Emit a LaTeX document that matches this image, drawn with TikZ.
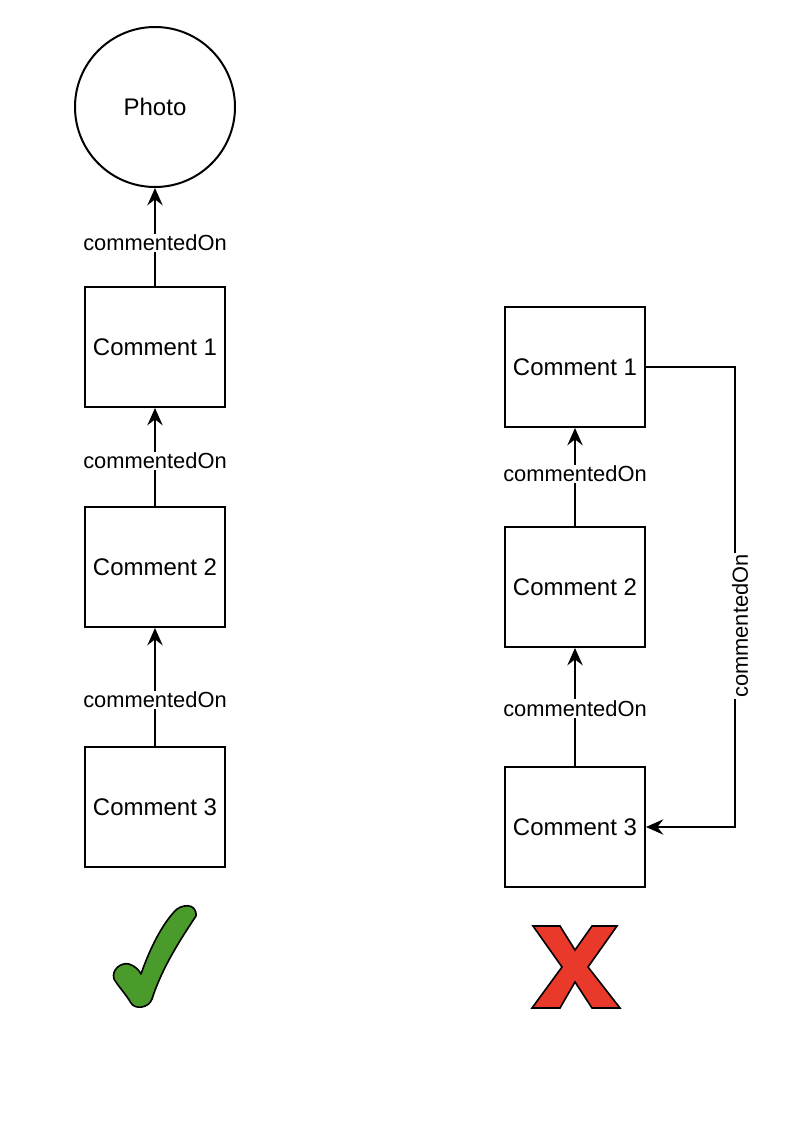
\documentclass[tikz,border=0pt]{standalone}
\usepackage{fontspec}
\setmainfont{Liberation Sans}
\usetikzlibrary{arrows.meta}
\definecolor{okgreen}{HTML}{4A9A2C}
\definecolor{nored}{HTML}{E8392A}
\begin{document}
\begin{tikzpicture}[x=0.75pt,y=-0.75pt,
  box/.style={draw,line width=1.5pt,minimum width=105pt,minimum height=90pt,inner sep=0pt,font=\fontsize{18}{21}\selectfont},
  photo/.style={draw,circle,line width=1.5pt,minimum size=120pt,inner sep=0pt,font=\fontsize{18}{21}\selectfont},
  arr/.style={line width=1.5pt,-{Stealth[length=13pt,width=11.5pt,inset=4.5pt]}},
  lbl/.style={fill=white,inner sep=1pt,font=\fontsize{16.4}{19}\selectfont}]
\useasboundingbox (0,0) rectangle (798,1124);
% left column
\node[photo] (ph) at (155,107) {Photo};
\node[box] (l1) at (155,347) {Comment 1};
\node[box] (l2) at (155,567) {Comment 2};
\node[box] (l3) at (155,807) {Comment 3};
\draw[arr] (l1.north) -- node[lbl,pos=0.44]{commentedOn} (ph.south);
\draw[arr] (l2.north) -- node[lbl,pos=0.46]{commentedOn} (l1.south);
\draw[arr] (l3.north) -- node[lbl,pos=0.39]{commentedOn} (l2.south);
% right column
\node[box] (r1) at (575,367) {Comment 1};
\node[box] (r2) at (575,587) {Comment 2};
\node[box] (r3) at (575,827) {Comment 3};
\draw[arr] (r2.north) -- node[lbl,pos=0.53]{commentedOn} (r1.south);
\draw[arr] (r3.north) -- node[lbl,pos=0.49]{commentedOn} (r2.south);
\coordinate (k1) at (735,367);
\coordinate (k2) at (735,827);
\draw[arr] (r1.east) -- (k1) -- (k2) -- (r3.east);
\node[lbl,rotate=90] (vl) at (740,626) {commentedOn};
% check mark
\draw[fill=okgreen,line width=1.2pt,line join=round]
  (141,974) .. controls (150,948) and (162,925) .. (174,912)
  .. controls (180,904) and (197,902) .. (196,916)
  .. controls (180,940) and (162,968) .. (152,999)
  .. controls (149,1008) and (135,1010) .. (131,1003)
  .. controls (125,993) and (118,986) .. (114,979)
  .. controls (111,969) and (122,962) .. (129,964)
  .. controls (135,966) and (139,970) .. cycle;
% cross
\draw[fill=nored,line width=1.2pt,line join=miter]
  (533,926) -- (560,926) -- (575,950) -- (592,926) -- (617,926)
  -- (588,967) -- (620,1008) -- (592,1008) -- (575,982) -- (560,1008)
  -- (532,1008) -- (562,967) -- cycle;
\end{tikzpicture}
\end{document}
